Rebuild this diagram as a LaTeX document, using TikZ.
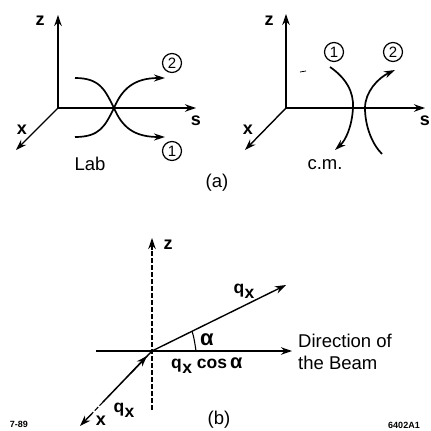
\documentclass[tikz,border=0pt]{standalone}
\usepackage{fontspec}
\setmainfont{Liberation Sans}
\usetikzlibrary{arrows.meta,positioning,calc}
\newcommand{\qsub}{q\kern0.5pt\raisebox{-5pt}{x}}

\begin{document}
\begin{tikzpicture}[
  x=1pt,y=-1pt,
  axis/.style={line width=1.4pt,-{Stealth[length=11pt,width=7.5pt]}},
  trackarr/.style={line width=1.7pt,-{Stealth[length=11pt,width=7pt]}},
  dashline/.style={line width=1.1pt,dash pattern=on 5pt off 2pt},
  lbl/.style={inner sep=0pt,font=\fontsize{18.5}{22}\selectfont},
  axlbl/.style={inner sep=0pt,font=\fontsize{18}{20}\selectfont\bfseries},
  qlbl/.style={inner sep=0pt,font=\fontsize{17.5}{20}\selectfont\bfseries},
  circ/.style={circle,draw,line width=1.2pt,inner sep=0pt,minimum size=19pt,font=\fontsize{15}{16}\selectfont},
  tinylbl/.style={inner sep=0pt,font=\fontsize{9}{10}\selectfont\bfseries}
]
\useasboundingbox (0,0) rectangle (431,431);

% Lab frame
\coordinate (o1) at (58,108);
\coordinate (z1) at (58,15);
\coordinate (s1) at (196,108);
\coordinate (x1) at (16,150);
\coordinate (c1) at (114,108);
\coordinate (a1) at (75,78);
\coordinate (a2) at (165,137);
\coordinate (b1) at (75,137);
\coordinate (b2) at (165,78);
\draw[axis] (o1) -- (z1);
\draw[axis] (o1) -- (s1);
\draw[axis] (o1) -- (x1);
\draw[trackarr] (a1) .. controls (100,78) and (105,90) .. (c1) .. controls (122,127) and (134,137) .. (a2);
\draw[trackarr] (b1) .. controls (100,137) and (105,126) .. (c1) .. controls (122,89) and (134,78) .. (b2);
\node[axlbl] (lz1) at (40,21) {z};
\node[axlbl] (ls1) at (196,121) {s};
\node[axlbl] (lx1) at (22,130) {x};
\node[lbl] (lab) at (90,164) {Lab};
\node[circ] (n2a) at (172,63) {2};
\node[circ] (n1a) at (172,151) {1};

% c.m. frame
\coordinate (o2) at (286,108);
\coordinate (z2) at (286,14);
\coordinate (s2) at (425,108);
\coordinate (x2) at (245,150);
\coordinate (d1) at (330,67);
\coordinate (d2) at (335,150);
\coordinate (d3) at (353,108);
\coordinate (e1) at (382,154);
\coordinate (e2) at (395,70);
\coordinate (e3) at (365,108);
\coordinate (sp1) at (300,72);
\coordinate (sp2) at (306,71);
\draw[axis] (o2) -- (z2);
\draw[axis] (o2) -- (s2);
\draw[axis] (o2) -- (x2);
\draw[trackarr] (d1) .. controls (346,78) and (354,92) .. (d3) .. controls (352,126) and (346,140) .. (d2);
\draw[trackarr] (e1) .. controls (372,144) and (365,126) .. (e3) .. controls (365,92) and (378,78) .. (e2);
\draw[line width=0.8pt] (sp1) -- (sp2);
\node[axlbl] (lz2) at (269,21) {z};
\node[axlbl] (ls2) at (425,121) {s};
\node[axlbl] (lx2) at (248,130) {x};
\node[lbl] (cm) at (325,165) {c.m.};
\node[circ] (n1b) at (334,52) {1};
\node[circ] (n2b) at (393,52) {2};
\node[lbl] (pa) at (217,183) {(a)};

% beam picture
\coordinate (o3) at (152,351);
\coordinate (z3) at (152,238);
\coordinate (z3a) at (152,250);
\coordinate (zb) at (152,410);
\coordinate (w3) at (96,351);
\coordinate (b3) at (292,351);
\coordinate (q3) at (286,285);
\coordinate (x3) at (80,426);
\coordinate (x3a) at (103,402);
\coordinate (x3b) at (92,413.5);
\coordinate (x3c) at (130,374);
\coordinate (x3d) at (147,356);
\coordinate (ar1) at (196,351);
\coordinate (ar2) at (192,331);
\draw[dashline] (zb) -- (z3a);
\draw[axis] (z3a) -- (z3);
\draw[axis] (w3) -- (b3);
\draw[axis] (o3) -- (q3);
\draw[line width=1.5pt] (o3) -- (x3a);
\draw[dashline] (x3a) -- (x3b);
\draw[axis] (x3b) -- (x3);
\draw[axis] (x3c) -- (x3d);
\draw[line width=1.1pt] (ar1) .. controls (195,344) and (194,337) .. (ar2);
\node[axlbl] (lz3) at (168,245) {z};
\node[qlbl] (qa) at (244,291) {\qsub};
\node[inner sep=0pt,font=\fontsize{22}{24}\selectfont\bfseries] (al) at (207,340) {α};
\node[qlbl,anchor=west] (qc) at (171,366) {\qsub\ cos\,\fontsize{20}{22}\selectfont α};
\node[qlbl] (qb) at (124,410) {\qsub};
\node[axlbl] (lx3) at (101,421) {x};
\node[lbl] (pb) at (219,420) {(b)};
\node[lbl,anchor=west,align=left] (beam) at (298,352) {Direction of\\the Beam};
\node[tinylbl] (dt) at (19,424) {7-89};
\node[tinylbl] (fg) at (404,425) {6402A1};
\end{tikzpicture}
\end{document}
